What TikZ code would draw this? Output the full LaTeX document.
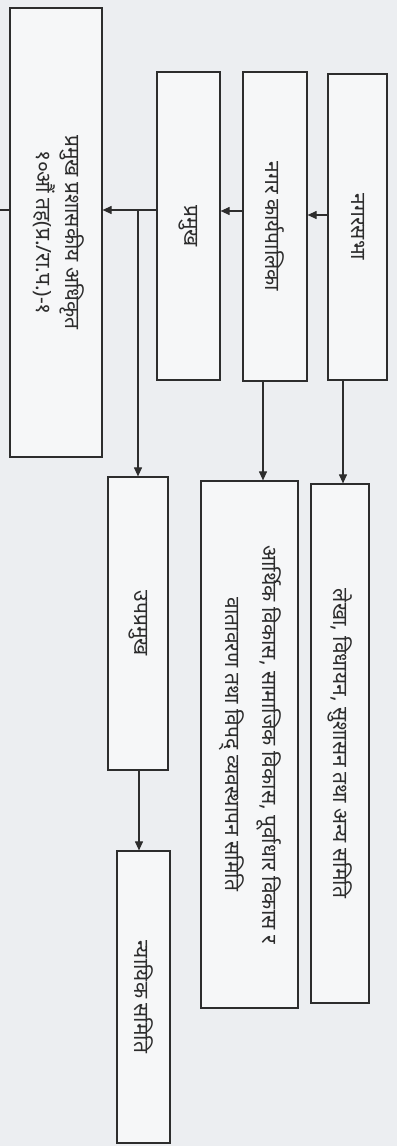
\documentclass[tikz,border=0pt]{standalone}
\usepackage{fontspec}
\usepackage{graphicx}
\newfontfamily\dev[Script=Devanagari]{Noto Sans}
\usetikzlibrary{arrows.meta}
\definecolor{bg}{RGB}{236,238,241}
\definecolor{boxfill}{RGB}{246,247,248}
\definecolor{ink}{RGB}{45,45,45}
\tikzset{
  box/.style={draw=ink, line width=1.2pt, fill=boxfill, rectangle, inner sep=0pt, font=\dev\fontsize{21}{27}\selectfont, text=ink},
  arr/.style={draw=ink, line width=1.1pt, -{Triangle[length=9pt,width=8pt]}},
  ln/.style={draw=ink, line width=1.1pt}
}
\newcommand{\rot}[1]{\rotatebox{-90}{#1}}
\begin{document}
\begin{tikzpicture}[x=1pt,y=-1pt]
\fill[bg] (0,0) rectangle (397,1146);
\useasboundingbox (0,0) rectangle (397,1146);
\node[box, minimum width=92pt, minimum height=449pt] (cao) at (56,232.5)
  {\rot{\begin{tabular}{@{}c@{}}{\bfseries प्रमुख प्रशासकीय अधिकृत}\\[2pt] १०औं तह(प्र./रा.प.)-१\end{tabular}}};
\node[box, minimum width=63pt, minimum height=308pt] (pramukh) at (188.5,226) {\rot{प्रमुख}};
\node[box, minimum width=64pt, minimum height=309pt] (karya) at (275,226.5) {\rot{नगर कार्यपालिका}};
\node[box, minimum width=59pt, minimum height=306pt] (sabha) at (357.5,227) {\rot{नगरसभा}};
\node[box, minimum width=60pt, minimum height=293pt] (upa) at (138,623.5) {\rot{उपप्रमुख}};
\node[box, minimum width=97pt, minimum height=527pt] (arthik) at (249.5,744.5)
  {\rot{\begin{tabular}{@{}c@{}}आर्थिक विकास, सामाजिक विकास, पूर्वाधार विकास र\\[10pt] वातावरण तथा विपद् व्यवस्थापन समिति\end{tabular}}};
\node[box, minimum width=58pt, minimum height=519pt] (lekha) at (340,743.5) {\rot{लेखा, विधायन, सुशासन तथा अन्य समिति}};
\node[box, minimum width=53pt, minimum height=292pt] (nyayik) at (143.5,997) {\rot{न्यायिक समिति}};
% horizontal chain
\draw[arr] ([yshift=12pt]sabha.west) -- ([yshift=12pt]sabha.west -| karya.east);
\draw[arr] ([yshift=15.5pt]karya.west) -- ([yshift=15.5pt]karya.west -| pramukh.east);
\draw[arr] ([yshift=16pt]pramukh.west) coordinate (br0) -- (br0 -| cao.east);
\coordinate (branch) at (br0 -| upa.north);
\draw[arr] (branch) -- (upa.north);
% down to committees
\draw[arr] ([xshift=-14.5pt]sabha.south) -- ([xshift=-14.5pt]sabha.south |- lekha.north);
\draw[arr] ([xshift=-12pt]karya.south) -- ([xshift=-12pt]karya.south |- arthik.north);
\draw[arr] ([xshift=1pt]upa.south) -- ([xshift=1pt]upa.south |- nyayik.north);
% line leaving CAO to the left
\coordinate (outl) at (0,210);
\draw[ln] (outl -| cao.west) -- (outl);
\end{tikzpicture}
\end{document}
